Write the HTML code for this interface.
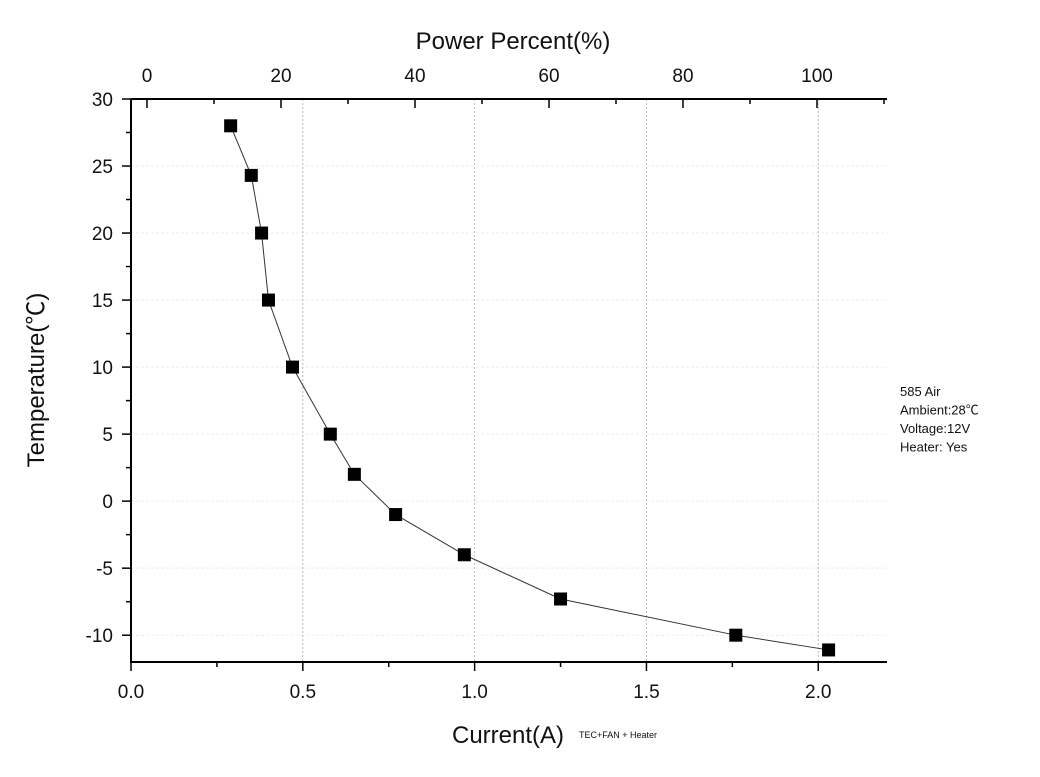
<!DOCTYPE html>
<html><head><meta charset="utf-8"><style>
body{margin:0;background:#fff;}
svg text{font-family:"Liberation Sans","Noto Sans CJK SC",sans-serif;fill:#111;}
</style></head><body>
<svg id="chart" width="1040" height="772" viewBox="0 0 1040 772" xmlns="http://www.w3.org/2000/svg"></svg>
<script>
const currents=[0.29,0.35,0.38,0.40,0.47,0.58,0.65,0.77,0.97,1.25,1.76,2.03];
const temps=[28,24.3,20,15,10,5,2,-1,-4,-7.3,-10,-11.1];
const xTicks=["0.0","0.5","1.0","1.5","2.0"];
const yTicks=[30,25,20,15,10,5,0,-5,-10];
const topTicks=[0,20,40,60,80,100];
const L=131,R=887,T=99,B=662;
const X=v=>L+v*(R-L)/2.2;
const Y=v=>T+(30-v)*(B-T)/42;
const P=p=>147+p*6.7;
const svg=document.getElementById('chart');
const NS='http://www.w3.org/2000/svg';
function mk(tag,attrs,parent){const e=document.createElementNS(NS,tag);for(const k in attrs)e.setAttribute(k,attrs[k]);(parent||svg).appendChild(e);return e;}
for(let v=-10;v<=25;v+=5){const g=mk('line',{x1:L,x2:R,y1:Y(v),y2:Y(v),stroke:'#dff2f2','stroke-width':1,'stroke-dasharray':'3,2'});

}
for(const v of [0.5,1,1.5,2]){const g=mk('line',{x1:X(v),x2:X(v),y1:T,y2:B,stroke:'#bbb','stroke-width':1,'stroke-dasharray':'2,2'});

}
const ax=mk('path',{d:`M${L},${T}V${B}H${R}M${L},${T}H${R}`,stroke:'#000','stroke-width':2,fill:'none'});


xTicks.forEach(t=>{const v=parseFloat(t);
mk('line',{x1:X(v),x2:X(v),y1:B,y2:B+9,stroke:'#000','stroke-width':1.5});
const tx=mk('text',{x:X(v),y:B+36,'text-anchor':'middle','font-size':19});tx.textContent=t;

});
for(let v=0.25;v<2.2;v+=0.5)mk('line',{x1:X(v),x2:X(v),y1:B,y2:B+5,stroke:'#000','stroke-width':1.5});
yTicks.forEach(v=>{mk('line',{x1:L-9,x2:L,y1:Y(v),y2:Y(v),stroke:'#000','stroke-width':1.5});
const tx=mk('text',{x:113,y:Y(v)+7,'text-anchor':'end','font-size':19});tx.textContent=v;

});
for(let v=-7.5;v<30;v+=5)mk('line',{x1:L-5,x2:L,y1:Y(v),y2:Y(v),stroke:'#000','stroke-width':1.5});
topTicks.forEach(p=>{mk('line',{x1:P(p),x2:P(p),y1:T,y2:T+9,stroke:'#000','stroke-width':1.5});
const tx=mk('text',{x:P(p),y:T-17,'text-anchor':'middle','font-size':19});tx.textContent=p;

});
for(let p=10;p<=110;p+=20)mk('line',{x1:P(p),x2:P(p),y1:T,y2:T+5,stroke:'#000','stroke-width':1.5});
const line=mk('polyline',{points:currents.map((c,i)=>X(c)+','+Y(temps[i])).join(' '),fill:'none',stroke:'#333','stroke-width':1});


currents.forEach((c,i)=>{const r=mk('rect',{x:X(c)-6.5,y:Y(temps[i])-6.5,width:13,height:13,fill:'#000'});

});
function label(txt,attrs,name){const t=mk('text',attrs);t.textContent=txt;

return t;}
label('Power Percent(%)',{x:513,y:49,'text-anchor':'middle','font-size':24},'top-axis-title');
label('Current(A)',{x:508,y:743,'text-anchor':'middle','font-size':24},'x-axis-title');
label('TEC+FAN + Heater',{x:579,y:738,'font-size':9},'x-axis-subtitle');
label('Temperature(℃)',{x:44,y:380,'text-anchor':'middle','font-size':24,transform:'rotate(-90 44 380)'},'y-axis-title');
['585 Air','Ambient:28℃','Voltage:12V','Heater: Yes'].forEach((s,i)=>label(s,{x:900,y:396+i*18.5,'font-size':13},'annotation-line'));
</script>
</body></html>
